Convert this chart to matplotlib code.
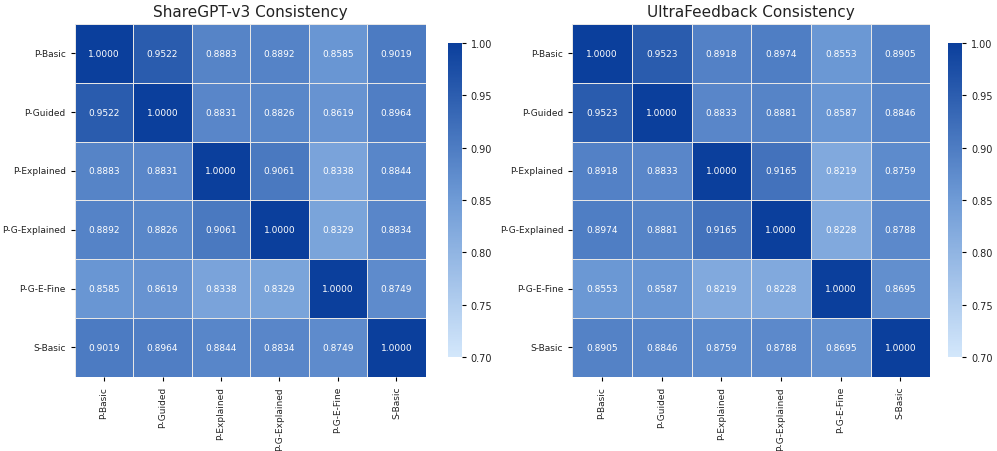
import numpy as np
import matplotlib
matplotlib.use("Agg")
import matplotlib.pyplot as plt
import seaborn as sns
from matplotlib.colors import LinearSegmentedColormap

labels = ["P-Basic", "P-Guided", "P-Explained", "P-G-Explained", "P-G-E-Fine", "S-Basic"]

sharegpt = [
    [1.0000, 0.9522, 0.8883, 0.8892, 0.8585, 0.9019],
    [0.9522, 1.0000, 0.8831, 0.8826, 0.8619, 0.8964],
    [0.8883, 0.8831, 1.0000, 0.9061, 0.8338, 0.8844],
    [0.8892, 0.8826, 0.9061, 1.0000, 0.8329, 0.8834],
    [0.8585, 0.8619, 0.8338, 0.8329, 1.0000, 0.8749],
    [0.9019, 0.8964, 0.8844, 0.8834, 0.8749, 1.0000],
]

ultrafeedback = [
    [1.0000, 0.9523, 0.8918, 0.8974, 0.8553, 0.8905],
    [0.9523, 1.0000, 0.8833, 0.8881, 0.8587, 0.8846],
    [0.8918, 0.8833, 1.0000, 0.9165, 0.8219, 0.8759],
    [0.8974, 0.8881, 0.9165, 1.0000, 0.8228, 0.8788],
    [0.8553, 0.8587, 0.8219, 0.8228, 1.0000, 0.8695],
    [0.8905, 0.8846, 0.8759, 0.8788, 0.8695, 1.0000],
]

titles = ["ShareGPT-v3 Consistency", "UltraFeedback Consistency"]

cmap = LinearSegmentedColormap.from_list("blues", ["#d3e7fb", "#6f9bd6", "#0b3f9c"])

fig = plt.figure(figsize=(9.97, 4.52), dpi=100)
heat_pos = [[0.075, 0.164, 0.352, 0.781], [0.574, 0.164, 0.359, 0.781]]
cbar_pos = [[0.449, 0.208, 0.014, 0.695], [0.951, 0.208, 0.014, 0.695]]

for data, title, hp, cp in zip([sharegpt, ultrafeedback], titles, heat_pos, cbar_pos):
    ax = fig.add_axes(hp)
    cax = fig.add_axes(cp)
    sns.heatmap(np.array(data), ax=ax, cbar_ax=cax, cmap=cmap, vmin=0.7, vmax=1.0,
                annot=True, fmt=".4f", annot_kws={"size": 6.5},
                linewidths=0.5, linecolor="#e6e6e6",
                xticklabels=labels, yticklabels=labels)
    ax.set_title(title, fontsize=11, pad=6, color="#222222")
    ax.tick_params(axis="x", labelsize=6.5, rotation=90, length=3, labelcolor="#222222")
    ax.tick_params(axis="y", labelsize=6.5, rotation=0, length=3, labelcolor="#222222")
    cax.tick_params(labelsize=7, length=3, labelcolor="#222222")
    cax.set_yticks([0.70, 0.75, 0.80, 0.85, 0.90, 0.95, 1.00])
    cax.set_yticklabels(["0.70", "0.75", "0.80", "0.85", "0.90", "0.95", "1.00"])
    for sp in cax.spines.values():
        sp.set_visible(False)

fig.savefig("out.png", dpi=100)
